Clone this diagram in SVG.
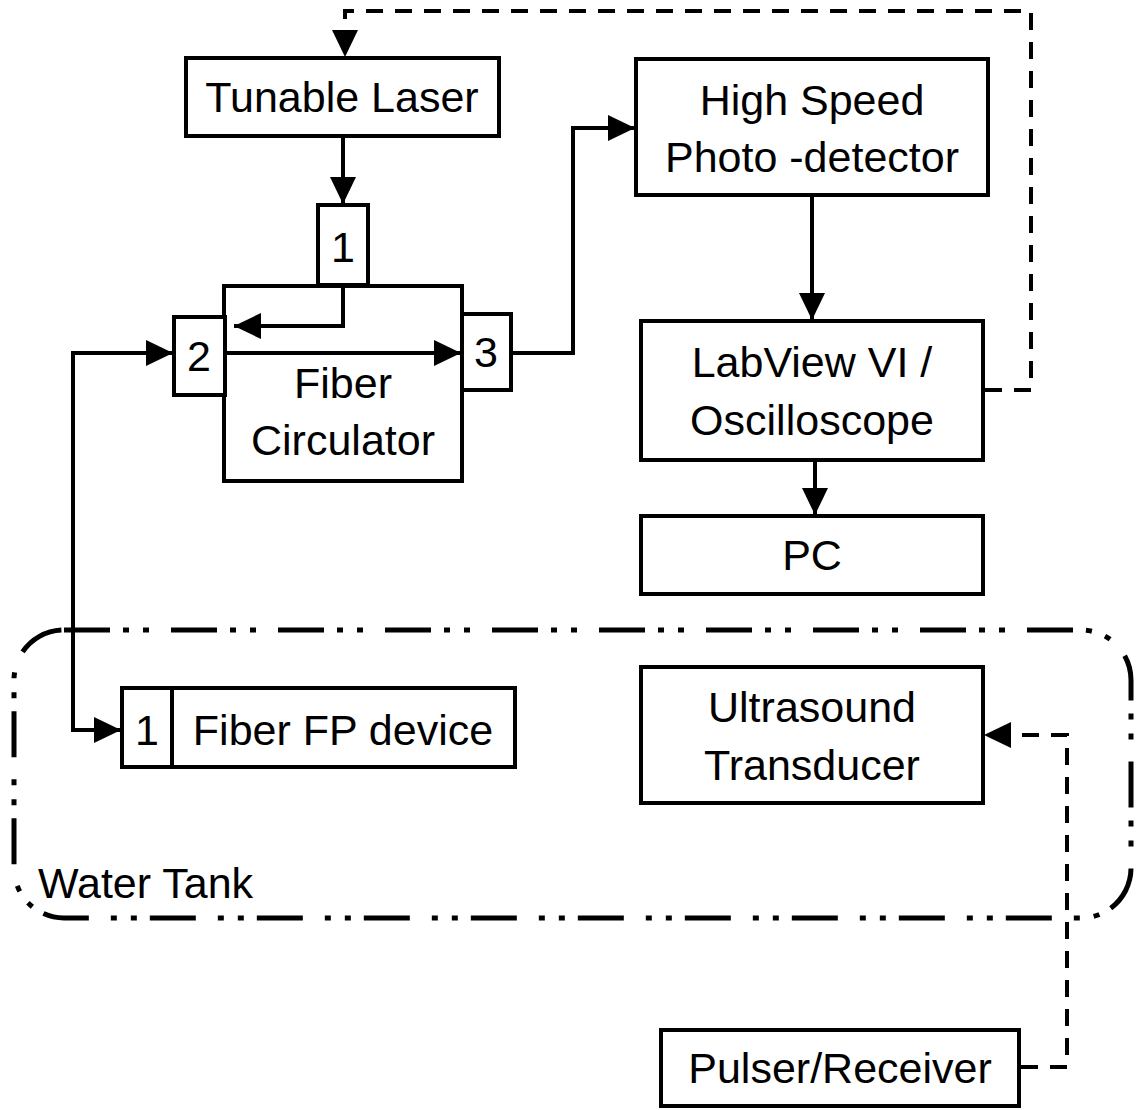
<svg xmlns="http://www.w3.org/2000/svg" width="1139" height="1110" viewBox="0 0 1139 1110">
<style>
.box{fill:#fff;stroke:#000;stroke-width:4}
.t{font-family:"Liberation Sans",Arial,sans-serif;font-size:43px;fill:#000;text-anchor:middle}
.c{fill:none;stroke:#000;stroke-width:4}
.d{fill:none;stroke:#000;stroke-width:4;stroke-dasharray:17 12}
.tank{fill:none;stroke:#000;stroke-width:5;stroke-dasharray:46 13 6 14 6 22}
</style>
<defs>
<marker id="ah" markerUnits="userSpaceOnUse" markerWidth="28" markerHeight="26" refX="27" refY="13" orient="auto">
<path d="M0,0 L27,13 L0,26 z" fill="#000"/>
</marker>
</defs>
<rect x="0" y="0" width="1139" height="1110" fill="#fff"/>

<g id="water-tank">
<rect class="tank" x="14" y="630" width="1117" height="288" rx="50" ry="50"/>
<text class="t" x="38" y="898" style="text-anchor:start">Water Tank</text>
</g>

<g id="tunable-laser">
<rect class="box" x="186" y="58" width="313" height="78"/>
<text class="t" x="342" y="112">Tunable Laser</text>
</g>

<g id="fiber-circulator">
<rect class="box" x="224" y="286" width="238" height="195"/>
<text class="t" x="343" y="398">Fiber</text>
<text class="t" x="343" y="455">Circulator</text>
</g>
<g id="port-1">
<rect class="box" x="318" y="205" width="50" height="80"/>
<text class="t" x="343" y="262">1</text>
</g>
<g id="port-2">
<rect class="box" x="174" y="317" width="51" height="78"/>
<text class="t" x="199" y="371">2</text>
</g>
<g id="port-3">
<rect class="box" x="462" y="314" width="49" height="76"/>
<text class="t" x="486" y="367">3</text>
</g>

<g id="photodetector">
<rect class="box" x="636" y="59" width="352" height="136"/>
<text class="t" x="812" y="115">High Speed</text>
<text class="t" x="812" y="172">Photo -detector</text>
</g>

<g id="labview">
<rect class="box" x="641" y="321" width="342" height="139"/>
<text class="t" x="812" y="377">LabView VI /</text>
<text class="t" x="812" y="435">Oscilloscope</text>
</g>

<g id="pc">
<rect class="box" x="641" y="516" width="342" height="78"/>
<text class="t" x="812" y="570">PC</text>
</g>

<g id="fiber-fp">
<rect class="box" x="122" y="688" width="393" height="79"/>
<line class="c" x1="172" y1="688" x2="172" y2="767"/>
<text class="t" x="147" y="745">1</text>
<text class="t" x="343" y="745">Fiber FP device</text>
</g>

<g id="ultrasound">
<rect class="box" x="641" y="667" width="342" height="136"/>
<text class="t" x="812" y="722">Ultrasound</text>
<text class="t" x="812" y="780">Transducer</text>
</g>

<g id="pulser">
<rect class="box" x="661" y="1030" width="358" height="76"/>
<text class="t" x="840" y="1083">Pulser/Receiver</text>
</g>

<g id="connectors">
<path class="c" d="M343,136 V204" marker-end="url(#ah)"/>
<path class="c" d="M343,287 V326 H234" marker-end="url(#ah)"/>
<path class="c" d="M225,353 H461" marker-end="url(#ah)"/>
<path class="c" d="M511,353 H573 V128 H635" marker-end="url(#ah)"/>
<path class="c" d="M812,195 V320" marker-end="url(#ah)"/>
<path class="c" d="M815,460 V515" marker-end="url(#ah)"/>
<path class="c" d="M73,351 V730 H121" marker-end="url(#ah)"/>
<path class="c" d="M71,353 H173" marker-end="url(#ah)"/>
<path class="d" d="M985,390 H1031 V11 H345 V57" marker-end="url(#ah)"/>
<path class="d" d="M1021,1067 H1067 V735 H984" marker-end="url(#ah)"/>
</g>
</svg>
